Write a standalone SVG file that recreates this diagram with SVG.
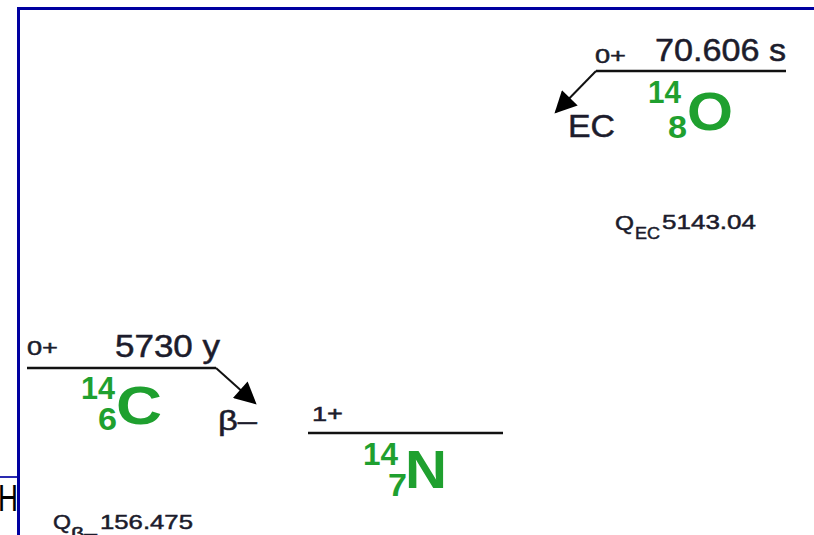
<svg xmlns="http://www.w3.org/2000/svg" width="814" height="535" viewBox="0 0 814 535">
<style>
text{font-family:"Liberation Sans",Arial,sans-serif}
.lbl{fill:#1c1c2c;stroke:#1c1c2c;stroke-width:0.5}
.nuc{fill:#1fa02f;font-weight:bold}
.lvl{stroke:#111;stroke-width:2.5;fill:none}
.arr{stroke:#111;stroke-width:2;fill:none}
</style>
<defs>
<marker id="ah" viewBox="0 0 10 10" refX="9" refY="5" markerWidth="24" markerHeight="22" markerUnits="userSpaceOnUse" orient="auto">
<path d="M0,0 L10,5 L0,10 Z" fill="#000"/>
</marker>
</defs>
<rect x="0" y="0" width="814" height="535" fill="#fff"/>
<rect x="18.5" y="8.5" width="900" height="900" fill="none" stroke="#0000a0" stroke-width="3"/>
<line x1="0" y1="477" x2="17" y2="477" stroke="#2a2ab0" stroke-width="2"/>
<text x="-2" y="511" font-size="37" fill="#000" textLength="20" lengthAdjust="spacingAndGlyphs">H</text>

<g id="O14">
<text class="lbl" x="595" y="63" font-size="21" textLength="31" lengthAdjust="spacingAndGlyphs">0+</text>
<text class="lbl" x="655" y="61" font-size="31" textLength="131" lengthAdjust="spacingAndGlyphs">70.606 s</text>
<line class="lvl" x1="596" y1="71" x2="786" y2="71"/>
<text class="nuc" x="648" y="103" font-size="32" textLength="33" lengthAdjust="spacingAndGlyphs">14</text>
<text class="nuc" x="668" y="138" font-size="32" textLength="19" lengthAdjust="spacingAndGlyphs">8</text>
<text class="nuc" x="687" y="130" font-size="54" textLength="46" lengthAdjust="spacingAndGlyphs">O</text>
<text class="lbl" x="568" y="137" font-size="31" textLength="47" lengthAdjust="spacingAndGlyphs">EC</text>
<text class="lbl" x="615" y="230" font-size="21" textLength="19" lengthAdjust="spacingAndGlyphs">Q</text>
<text class="lbl" x="635" y="239" font-size="17" textLength="25" lengthAdjust="spacingAndGlyphs">EC</text>
<text class="lbl" x="662" y="229" font-size="21" textLength="94" lengthAdjust="spacingAndGlyphs">5143.04</text>
</g>

<g id="C14">
<text class="lbl" x="27" y="355" font-size="21" textLength="31" lengthAdjust="spacingAndGlyphs">0+</text>
<text class="lbl" x="115" y="357" font-size="31" textLength="105" lengthAdjust="spacingAndGlyphs">5730 y</text>
<line class="lvl" x1="27" y1="368" x2="216" y2="368"/>
<text class="nuc" x="81" y="399" font-size="32" textLength="34" lengthAdjust="spacingAndGlyphs">14</text>
<text class="nuc" x="98" y="430" font-size="32" textLength="19" lengthAdjust="spacingAndGlyphs">6</text>
<text class="nuc" x="116" y="424" font-size="54" textLength="46" lengthAdjust="spacingAndGlyphs">C</text>
<text class="lbl" x="218" y="430" font-size="28" textLength="39" lengthAdjust="spacingAndGlyphs">β–</text>
<text class="lbl" x="53" y="529" font-size="21" textLength="18" lengthAdjust="spacingAndGlyphs">Q</text>
<text class="lbl" x="71" y="539" font-size="16" textLength="26" lengthAdjust="spacingAndGlyphs">β–</text>
<text class="lbl" x="100" y="529" font-size="21" textLength="93" lengthAdjust="spacingAndGlyphs">156.475</text>
</g>

<g id="N14">
<text class="lbl" x="312" y="421" font-size="20" textLength="31" lengthAdjust="spacingAndGlyphs">1+</text>
<line class="lvl" x1="308" y1="433" x2="503" y2="433"/>
<text class="nuc" x="363" y="465" font-size="32" textLength="35" lengthAdjust="spacingAndGlyphs">14</text>
<text class="nuc" x="388" y="496" font-size="32" textLength="19" lengthAdjust="spacingAndGlyphs">7</text>
<text class="nuc" x="405" y="488" font-size="54" textLength="42" lengthAdjust="spacingAndGlyphs">N</text>
</g>

<g id="connectors">
<line class="arr" x1="596" y1="71" x2="556" y2="112" marker-end="url(#ah)"/>
<line class="arr" x1="216" y1="368" x2="255" y2="403" marker-end="url(#ah)"/>
</g>
</svg>
